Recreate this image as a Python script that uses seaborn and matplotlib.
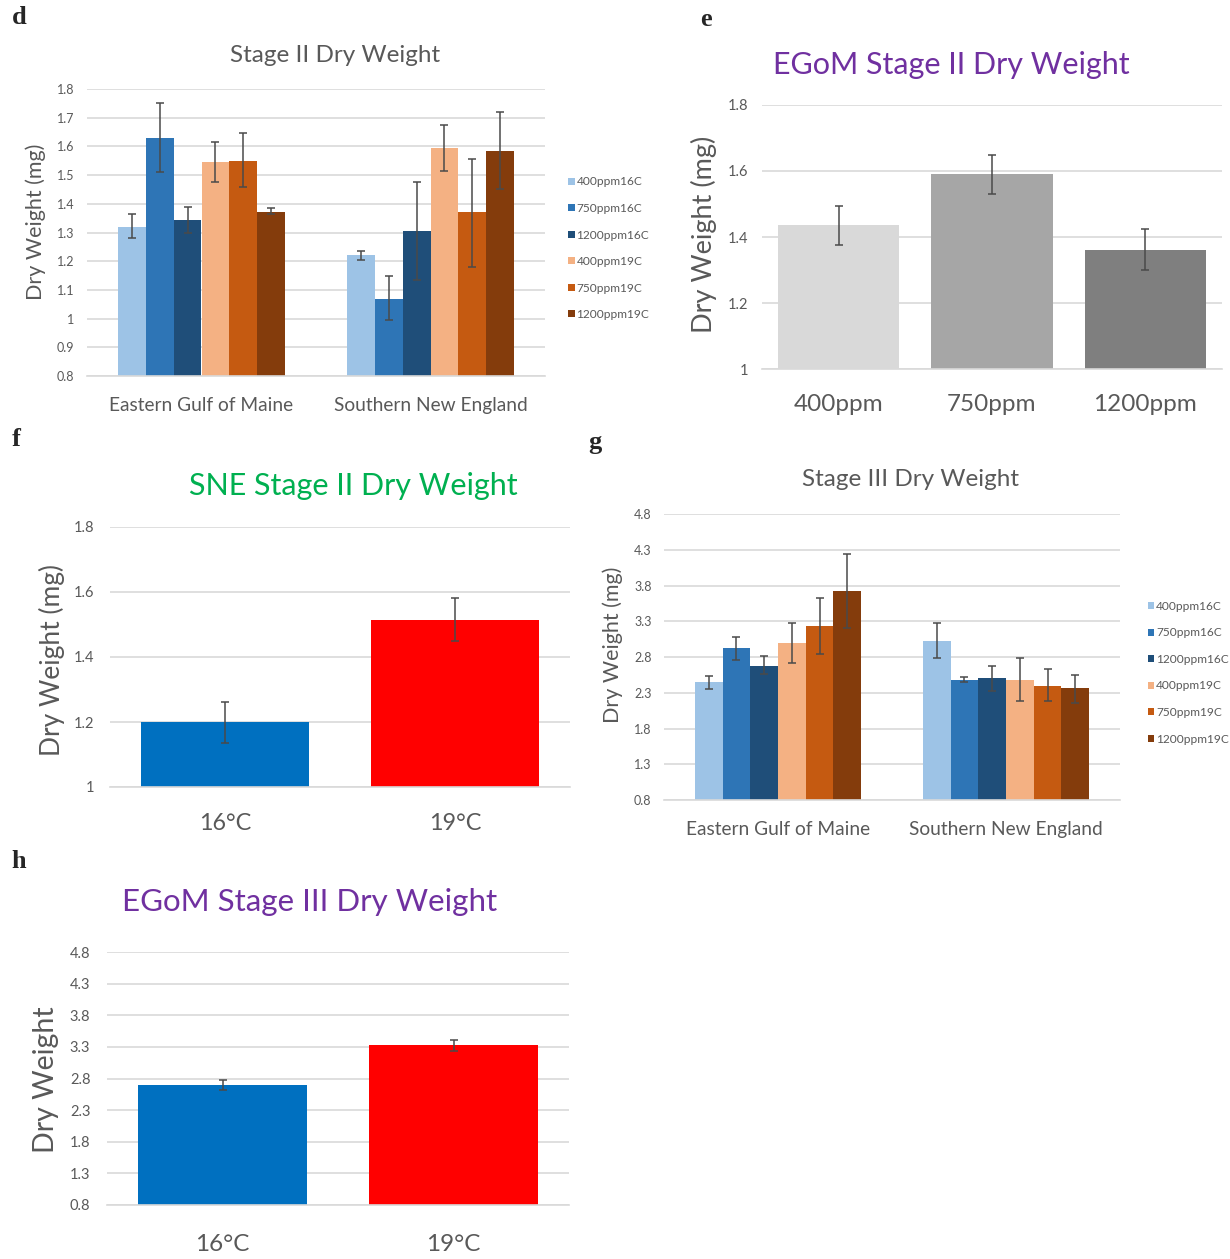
import numpy as np
import pandas as pd
import matplotlib
matplotlib.use("Agg")
import matplotlib.pyplot as plt
import seaborn as sns

# ---- data ----
regions = ["Eastern Gulf of Maine", "Southern New England"]
treatments = ["400ppm16C", "750ppm16C", "1200ppm16C", "400ppm19C", "750ppm19C", "1200ppm19C"]
treat_colors = ["#9dc3e6", "#2e75b6", "#1f4e79", "#f4b183", "#c55a11", "#843c0c"]

# d: Stage II dry weight by region / treatment
d_egom_mean = [1.32, 1.63, 1.345, 1.545, 1.55, 1.372]
d_egom_lo = [1.28, 1.51, 1.30, 1.475, 1.46, 1.365]
d_egom_hi = [1.365, 1.75, 1.39, 1.615, 1.645, 1.385]
d_sne_mean = [1.22, 1.07, 1.305, 1.595, 1.37, 1.583]
d_sne_lo = [1.205, 0.995, 1.135, 1.515, 1.18, 1.45]
d_sne_hi = [1.235, 1.15, 1.475, 1.675, 1.555, 1.72]

# e: EGoM Stage II by CO2
e_labels = ["400ppm", "750ppm", "1200ppm"]
e_mean = [1.435, 1.59, 1.36]
e_lo = [1.375, 1.53, 1.30]
e_hi = [1.495, 1.65, 1.425]
e_colors = ["#d9d9d9", "#a6a6a6", "#7f7f7f"]

# f: SNE Stage II by temperature
temps = ["16°C", "19°C"]
temp_colors = ["#0070c0", "#ff0000"]
f_mean = [1.20, 1.515]
f_lo = [1.135, 1.45]
f_hi = [1.26, 1.58]

# g: Stage III dry weight by region / treatment
g_egom_mean = [2.45, 2.93, 2.68, 2.99, 3.23, 3.72]
g_egom_lo = [2.35, 2.76, 2.56, 2.71, 2.84, 3.21]
g_egom_hi = [2.54, 3.08, 2.81, 3.28, 3.62, 4.24]
g_sne_mean = [3.03, 2.48, 2.50, 2.48, 2.40, 2.36]
g_sne_lo = [2.78, 2.45, 2.33, 2.18, 2.19, 2.16]
g_sne_hi = [3.28, 2.52, 2.67, 2.79, 2.63, 2.55]

# h: EGoM Stage III by temperature
h_mean = [2.70, 3.33]
h_lo = [2.62, 3.24]
h_hi = [2.78, 3.41]

sns.set_style("white")
plt.rcParams['font.family'] = ['Lato', 'DejaVu Sans']
GREY = '#595959'

fig = plt.figure(figsize=(12.3, 12.59), dpi=100)
W, H = 1230, 1259


def add_axes(x0, x1, y0, y1):
    # pixel box -> figure fraction
    return fig.add_axes([x0 / W, 1 - y1 / H, (x1 - x0) / W, (y1 - y0) / H])


def style_axis(ax, ncat, ylim, ticks, tick_size, xtick_size, xpad, ypad):
    ax.set_xlim(-0.5, ncat - 0.5)
    ax.set_ylim(*ylim)
    ax.set_yticks(ticks)
    ax.set_yticklabels([f"{t:g}" for t in ticks])
    ax.grid(axis='y', color='#d9d9d9', lw=1.2)
    ax.set_axisbelow(True)
    for s in ['top', 'right', 'left']:
        ax.spines[s].set_visible(False)
    ax.spines['bottom'].set_color('#d9d9d9')
    ax.spines['bottom'].set_linewidth(1.2)
    ax.tick_params(length=0, labelcolor=GREY)
    ax.tick_params(axis='y', labelsize=tick_size, pad=ypad)
    ax.tick_params(axis='x', labelsize=xtick_size, pad=xpad)
    ax.set_xlabel('')


def add_errors(ax, containers, means, los, his):
    for cont, m, lo, hi in zip(containers, means, los, his):
        xs = [b.get_x() + b.get_width() / 2 for b in cont]
        m = np.asarray(m); lo = np.asarray(lo); hi = np.asarray(hi)
        ax.errorbar(xs, m, yerr=[m - lo, hi - m], fmt='none', ecolor='#4a4a4a',
                    elinewidth=1.1, capsize=3, capthick=1.1, zorder=5)


def grouped_panel(box, egom_m, egom_lo, egom_hi, sne_m, sne_lo, sne_hi, ylim, ticks, ylab_xy, leg_x):
    ax = add_axes(*box)
    df = pd.DataFrame({
        'region': np.repeat(regions, len(treatments)),
        'treatment': treatments * 2,
        'mean': egom_m + sne_m,
        'lo': egom_lo + sne_lo,
        'hi': egom_hi + sne_hi,
    })
    sns.barplot(data=df, x='region', y='mean', hue='treatment', hue_order=treatments,
                palette=treat_colors, width=0.73, errorbar=None, saturation=1,
                linewidth=0, ax=ax)
    sub = [df[df.treatment == t] for t in treatments]
    add_errors(ax, ax.containers, [s['mean'] for s in sub], [s['lo'] for s in sub], [s['hi'] for s in sub])
    style_axis(ax, len(regions), ylim, ticks, 9, 13.8, 15, 9)
    ax.set_ylabel('Dry Weight (mg)', fontsize=15.5, color=GREY)
    ax.yaxis.set_label_coords(*ylab_xy)
    ax.legend(loc='center left', bbox_to_anchor=(leg_x, 0.445), frameon=False,
              fontsize=8.6, labelcolor=GREY, handlelength=0.55, handleheight=0.55,
              handletextpad=0.15, labelspacing=1.3, borderaxespad=0)
    return ax


def simple_panel(box, labels, means, los, his, colors, width, ylim, ticks, tick_size,
                 xtick_size, xpad, ypad, ylabel, ylab_size, ylab_xy):
    ax = add_axes(*box)
    df = pd.DataFrame({'cat': labels, 'mean': means, 'lo': los, 'hi': his})
    sns.barplot(data=df, x='cat', y='mean', hue='cat', palette=colors, width=width,
                errorbar=None, saturation=1, linewidth=0, legend=False, ax=ax)
    conts = [[b] for b in ax.patches]
    add_errors(ax, conts, [[v] for v in means], [[v] for v in los], [[v] for v in his])
    style_axis(ax, len(labels), ylim, ticks, tick_size, xtick_size, xpad, ypad)
    ax.set_ylabel(ylabel, fontsize=ylab_size, color=GREY)
    ax.yaxis.set_label_coords(*ylab_xy)
    return ax


# d
grouped_panel((87, 545, 89, 376), d_egom_mean, d_egom_lo, d_egom_hi, d_sne_mean, d_sne_lo, d_sne_hi,
              (0.8, 1.8), np.round(np.arange(0.8, 1.81, 0.1), 1), (-0.089, 0.537), 1.04)
fig.text(335 / W, 1 - 55 / H, 'Stage II Dry Weight', ha='center', va='center', fontsize=17.5, color=GREY)

# e
simple_panel((762, 1222, 105, 369), e_labels, e_mean, e_lo, e_hi, e_colors, 0.79,
             (1.0, 1.8), [1.0, 1.2, 1.4, 1.6, 1.8], 10.5, 17.5, 18, 10,
             'Dry Weight (mg)', 19.5, (-0.098, 0.51))
fig.text(951 / W, 1 - 65 / H, 'EGoM Stage II Dry Weight', ha='center', va='center', fontsize=22, color='#7030a0')

# f
simple_panel((110, 570, 527, 787), temps, f_mean, f_lo, f_hi, temp_colors, 0.73,
             (1.0, 1.8), [1.0, 1.2, 1.4, 1.6, 1.8], 10.5, 16.8, 18.5, 11,
             'Dry Weight (mg)', 19, (-0.097, 0.488))
fig.text(353 / W, 1 - 486 / H, 'SNE Stage II Dry Weight', ha='center', va='center', fontsize=22, color='#00b050')

# g
grouped_panel((664, 1120, 514, 800), g_egom_mean, g_egom_lo, g_egom_hi, g_sne_mean, g_sne_lo, g_sne_hi,
              (0.8, 4.8), np.round(np.arange(0.8, 4.81, 0.5), 1), (-0.09, 0.542), 1.05)
fig.text(911 / W, 1 - 480 / H, 'Stage III Dry Weight', ha='center', va='center', fontsize=17.5, color=GREY)

# h
simple_panel((107, 569, 952, 1205), temps, h_mean, h_lo, h_hi, temp_colors, 0.73,
             (0.8, 4.8), np.round(np.arange(0.8, 4.81, 0.5), 1), 10.5, 17.5, 21, 12,
             'Dry Weight', 20.5, (-0.104, 0.494))
fig.text(310 / W, 1 - 902 / H, 'EGoM Stage III Dry Weight', ha='center', va='center', fontsize=22.5, color='#7030a0')

# panel letters
for letter, x, y in [('d', 19, 18), ('e', 706, 20), ('f', 16, 440), ('g', 595, 442), ('h', 19, 862)]:
    fig.text(x / W, 1 - y / H, letter, ha='center', va='center', fontsize=19,
             fontweight='bold', family='Liberation Serif')

fig.savefig('out.png', dpi=100)
